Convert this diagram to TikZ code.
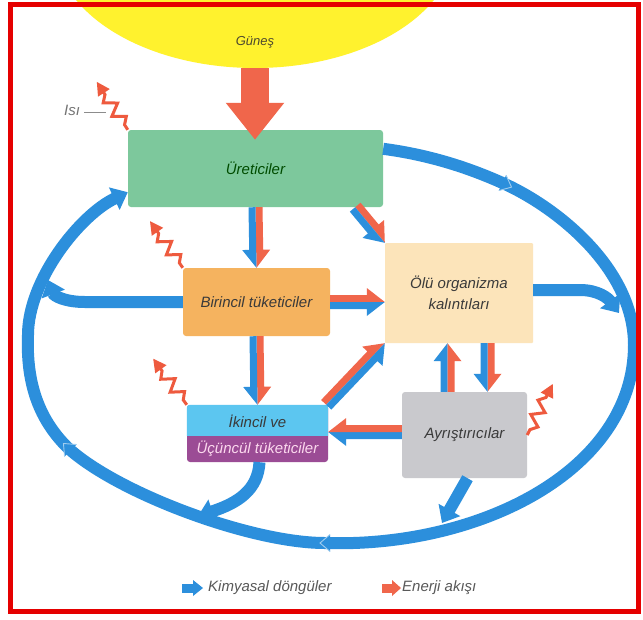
\documentclass[tikz,border=0pt]{standalone}
\usepackage{fontspec}
\setmainfont{Liberation Sans}
\usetikzlibrary{calc,arrows.meta,shapes.geometric}

\definecolor{cblue}{HTML}{2C8FDC}
\definecolor{cred}{HTML}{F0664B}
\definecolor{czig}{HTML}{EE5A3E}
\definecolor{csun}{HTML}{FFF22E}
\definecolor{cgreen}{HTML}{7DC89C}
\definecolor{corange}{HTML}{F5B35F}
\definecolor{cpeach}{HTML}{FCE4BA}
\definecolor{clblue}{HTML}{5CC6F0}
\definecolor{cpurple}{HTML}{9B4C95}
\definecolor{cgray}{HTML}{C9C9CD}
\definecolor{cframe}{HTML}{E50000}
\definecolor{ctext}{HTML}{3A3A3A}

% paired arrow: #3 on the left of travel, #4 on the right
\newcommand{\duo}[4]{%
  \coordinate (ds) at (#1);
  \coordinate (de) at (#2);
  \coordinate (dh) at ($(de)!18pt!(ds)$);
  \fill[#3] (ds) -- ($(ds)!7pt!90:(de)$) -- ($(dh)!7pt!-90:(ds)$) -- ($(dh)!14pt!-90:(ds)$) -- (de) -- cycle;
  \fill[#4] (ds) -- ($(ds)!7pt!-90:(de)$) -- ($(dh)!7pt!90:(ds)$) -- ($(dh)!14pt!90:(ds)$) -- (de) -- cycle;
}
\newcommand{\heatarrow}[2]{%
  \begin{scope}[shift={(#1)}, rotate=#2]
    \draw[czig, line width=3pt, line join=miter] (0,0) -- (6,0) -- (12,6) -- (20,-6) -- (28,6) -- (36,-6) -- (42,0) -- (46,0);
    \fill[czig] (44,-7) -- (57,0) -- (44,7) -- cycle;
  \end{scope}}
\newcommand{\chev}[2]{%
  \begin{scope}[shift={(#1)}, rotate=#2]
    \fill[cblue] (-5,-8.5) -- (5,0) -- (-5,8.5) -- cycle;
    \draw[white!55!cblue, line width=0.9pt] (-5,-8.5) -- (5,0) -- (-5,8.5);
  \end{scope}}

\begin{document}
\begin{tikzpicture}[x=1pt,y=-1pt,
  box/.style={rounded corners=3pt, inner sep=0pt, font=\fontsize{15}{21}\selectfont\itshape, text=ctext, align=center},
  lbl/.style={font=\fontsize{15}{17}\selectfont\itshape, text=ctext, inner sep=0pt},
  blueband/.style={draw=cblue, line width=12pt},
  bluearrow/.style={blueband, -{Triangle[width=24pt,length=15pt]}}
]
\useasboundingbox (0,0) rectangle (643,619);
\fill[white] (0,0) rectangle (643,619);

% sun
\begin{scope}
  \clip (0,0) rectangle (643,619);
  \node[ellipse, fill=csun, minimum width=400pt, minimum height=246pt, inner sep=0pt] (sun) at (255,-55) {};
\end{scope}
\node[font=\fontsize{13}{14}\selectfont\itshape, text=black!60!olive, inner sep=0pt] (gunes) at (255,42) {Güneş};

% boxes
\node[box, fill=cgreen, minimum width=255pt, minimum height=77pt, text=black!70!green] (ure) at (255.5,168.5) {Üreticiler};
\node[box, fill=corange, minimum width=147pt, minimum height=68pt] (bir) at (256.5,302) {Birincil tüketiciler};
\node[box, fill=cpeach, minimum width=148pt, minimum height=100pt, rounded corners=1pt] (ole) at (459,293) {Ölü organizma\\kalıntıları};
\node[box, fill=cpurple, minimum width=141pt, minimum height=57pt] (ik) at (257.5,433.5) {};
\begin{scope}
  \clip (ik.north west) rectangle ($(ik.east)+(0,1.5)$);
  \fill[clblue, rounded corners=3pt] (ik.north west) rectangle (ik.south east);
\end{scope}
\node[lbl] (ik1) at (257.5,421) {İkincil ve};
\node[lbl, text=white!85!magenta] (ik2) at (257.5,449) {Üçüncül tüketiciler};
\node[box, fill=cgray, minimum width=125pt, minimum height=86pt] (ayr) at (464.5,435) {Ayrıştırıcılar};

% sun energy arrow
\draw[cred, line width=28pt, -{Triangle[width=56pt,length=37pt]}] (sun.south) -- ($(sun.south |- ure.north)+(0,10)$);

% big chemical loop
\draw[blueband, -{Triangle[width=24pt,length=15pt]}] ($(ure.north east)+(0,19)$) .. controls (430,155) and (470,168) .. (507,185)
  .. controls (560,210) and (634,270) .. (634,345)
  .. controls (634,470) and (480,548) .. (325,543)
  .. controls (250,543) and (115,492) .. (67,447)
  .. controls (40,420) and (26,385) .. (28,335)
  .. controls (28,280) and (80,215) .. ($(ure.south west)+(0,-15)$);
\chev{507,185}{-25.3}
\chev{325,543}{180}
\chev{67,447}{135}

% blue arrows into the loop
\draw[bluearrow] ($(ole.east)+(0,-3)$) -- (580,290) .. controls (598,290) and (608,298) .. (619,313);
\draw[bluearrow] (bir.west) -- (85,302) .. controls (65,302) and (54,296) .. (48,280);
\draw[bluearrow] ($(ik.south)+(2,0)$) .. controls (258,490) and (238,503) .. (198,516);
\draw[bluearrow] ($(ayr.south)+(3,0)$) -- (442,523);

% paired arrows
\coordinate (ayrw) at ($(ayr.west)+(0,-3)$);
\coordinate (ayrn1) at ($(ayr.north)+(-17,0)$);
\coordinate (ayrn2) at ($(ayr.north)+(23,0)$);
\coordinate (ureb) at ($(ure.south east)+(-28,0)$);
\coordinate (ikne) at ($(ik.north east)+(-2,0)$);
\duo{ure.south}{bir.north}{cred}{cblue}
\duo{bir.south}{ik.north}{cred}{cblue}
\duo{ureb}{ole.north west}{cred}{cblue}
\duo{bir.east}{bir.east -| ole.west}{cred}{cblue}
\duo{ikne}{ole.south west}{cred}{cblue}
\duo{ayrw}{ayrw -| ik.east}{cblue}{cred}
\duo{ayrn1}{ayrn1 |- ole.south}{cblue}{cred}
\duo{ayrn2 |- ole.south}{ayrn2}{cred}{cblue}

% heat
\heatarrow{ure.north west}{122.9}
\heatarrow{bir.north west}{125.1}
\heatarrow{ik.north west}{126.1}
\heatarrow{ayr.east}{63.4}
\node[lbl, text=black!55] (isi) at (72,110) {Isı};
\coordinate (isiend) at (106,112);
\draw[black!45, line width=1pt] ($(isi.east)+(4,2)$) -- (isiend);

% legend
\fill[cblue] (182,583.5) rectangle (193,592.5);
\fill[cblue] (193,580) -- (203,588) -- (193,596) -- cycle;
\node[lbl, text=black!65, anchor=west] (leg1) at (208,588) {Kimyasal döngüler};
\fill[cred] (382,583.5) rectangle (392,592.5);
\fill[cred] (392,580) -- (401,588) -- (392,596) -- cycle;
\node[lbl, text=black!65, anchor=west] (leg2) at (402,588) {Enerji akışı};

% frame
\draw[cframe, line width=5pt] (10.5,4) rectangle (638.5,611);
\end{tikzpicture}
\end{document}
